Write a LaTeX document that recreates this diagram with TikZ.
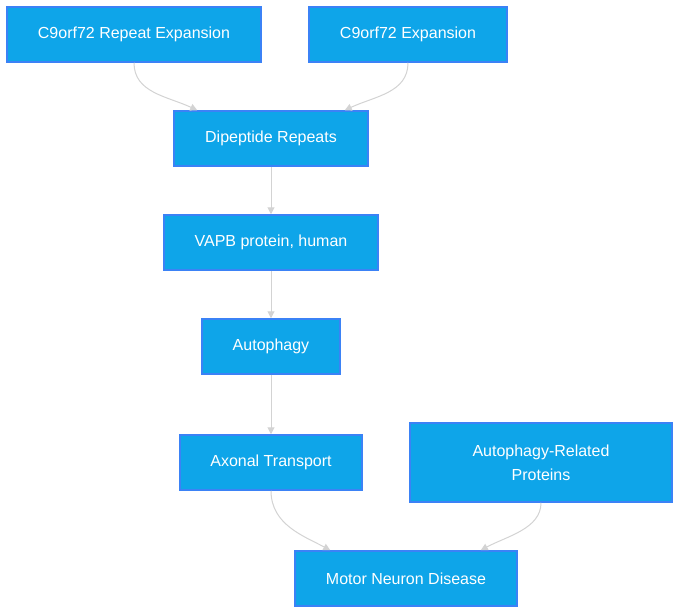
\documentclass[tikz,border=0pt]{standalone}
\usepackage{fontspec}
\setmainfont{Liberation Sans}
\usepackage{tikz}
\usetikzlibrary{arrows.meta}

\definecolor{boxfill}{HTML}{0EA5E9}
\definecolor{boxline}{HTML}{3B82F6}
\definecolor{edgegray}{HTML}{D3D3D3}

\begin{document}
\begin{tikzpicture}[x=1pt,y=-1pt,
  box/.style={draw=boxline,line width=1.5pt,fill=boxfill,text=white,inner sep=0pt,
    font=\fontsize{16}{24}\selectfont,align=center},
  edge/.style={draw=edgegray,line width=1pt,-{Triangle[length=7pt,width=7pt]}}]
  \useasboundingbox (0,0) rectangle (680,614);
  \node[box,minimum width=254pt,minimum height=55pt](rep) at (134,34.5){C9orf72 Repeat Expansion};
  \node[box,minimum width=198pt,minimum height=55pt](exp) at (408,34.5){C9orf72 Expansion};
  \node[box,minimum width=194pt,minimum height=55pt](dip) at (271,138.5){Dipeptide Repeats};
  \node[box,minimum width=214pt,minimum height=55pt](vapb) at (271,242.5){VAPB protein, human};
  \node[box,minimum width=138pt,minimum height=55pt](auto) at (271,346.5){Autophagy};
  \node[box,minimum width=182pt,minimum height=55pt](axon) at (271,462.5){Axonal Transport};
  \node[box,minimum width=262pt,minimum height=79pt](arp) at (541,462.5){Autophagy-Related\\Proteins};
  \node[box,minimum width=222pt,minimum height=55pt](mnd) at (406,578.5){Motor Neuron Disease};
  % connectors
  \draw[edge](rep.south) .. controls +(0,30) and +(-30,-14) .. ([xshift=24pt]dip.north west);
  \draw[edge](exp.south) .. controls +(0,30) and +(30,-14) .. ([xshift=-24pt]dip.north east);
  \draw[edge](dip) -- (vapb);
  \draw[edge](vapb) -- (auto);
  \draw[edge](auto) -- (axon);
  \draw[edge](axon.south) .. controls +(0,34) and +(-26,-14) .. ([xshift=36pt]mnd.north west);
  \draw[edge](arp.south) .. controls +(0,26) and +(26,-14) .. ([xshift=-37pt]mnd.north east);
\end{tikzpicture}
\end{document}
